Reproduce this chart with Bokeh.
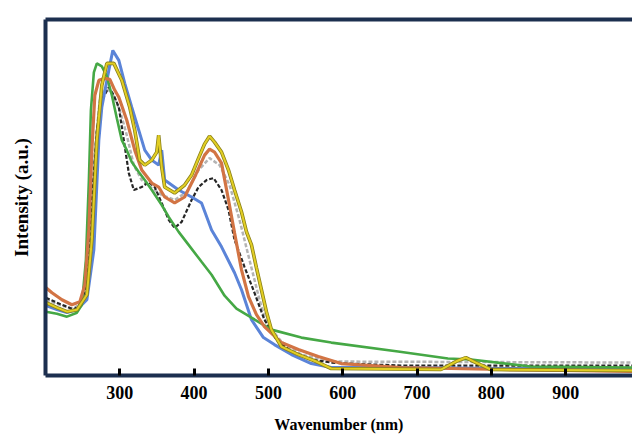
from bokeh.plotting import figure
from bokeh.models import Range1d, FixedTicker, LinearAxis
from bokeh.embed import file_html
from bokeh.resources import INLINE

# ---------------- data (intensity in a.u.) ----------------
x_ticks = [300, 400, 500, 600, 700, 800, 900]

blue_x = [200.7, 215.4, 228.9, 242.3, 255.7, 265.1, 271.8, 275.8, 285.2, 290.6, 298.7, 306.7, 316.1,
          325.5, 333.6, 343.0, 352.3, 356.4, 360.4, 379.2, 396.6, 410.0, 423.5, 436.9, 454.4, 463.8,
          477.2, 493.3, 508.0, 530.9, 557.7, 584.6, 678.5, 812.8, 990.0]
blue_y = [70, 66, 63, 66, 76, 126, 236, 269, 306, 326, 316, 293, 269,
          246, 226, 216, 211, 226, 196, 186, 179, 173, 146, 129, 103, 86,
          56, 38, 31, 21, 12, 8, 8, 7, 7]

green_x = [200.7, 215.4, 228.9, 242.3, 249.0, 254.4, 258.4, 261.1, 265.1, 269.1, 275.8, 282.6, 289.3,
           296.0, 302.7, 309.4, 316.1, 325.5, 333.6, 343.0, 356.4, 365.8, 379.2, 392.6, 410.0, 423.5,
           441.0, 457.0, 477.2, 504.0, 544.3, 584.6, 674.5, 741.6, 772.5, 853.0, 990.0]
green_y = [64, 62, 59, 63, 71, 116, 196, 266, 304, 313, 310, 300, 281,
           258, 236, 226, 214, 204, 196, 186, 171, 159, 144, 131, 114, 101,
           80, 67, 58, 46, 38, 33, 24, 17, 16, 9, 8]

yellow_x = [200.7, 215.4, 228.9, 242.3, 255.7, 262.4, 269.1, 275.8, 282.6, 292.0, 302.7, 313.4, 320.1,
            326.8, 333.6, 343.0, 349.7, 352.3, 356.4, 360.4, 373.8, 387.2, 396.6, 406.0, 414.0, 420.8,
            427.5, 436.9, 446.3, 454.4, 463.8, 470.5, 477.2, 483.9, 490.6, 497.3, 504.0, 517.4, 540.3,
            564.4, 584.6, 732.2, 752.3, 765.8, 779.2, 799.4, 990.0]
yellow_y = [73, 68, 64, 66, 81, 136, 236, 291, 313, 313, 296, 269, 246,
            216, 211, 216, 224, 241, 209, 189, 183, 191, 201, 218, 232, 240,
            234, 224, 206, 186, 164, 144, 131, 108, 86, 64, 46, 29, 21,
            14, 7, 6, 14, 18, 13, 6, 5]

red_x = [200.7, 208.7, 222.1, 235.5, 246.3, 253.0, 258.4, 262.4, 266.4, 271.8, 279.9, 286.6, 293.3,
         298.7, 309.4, 320.1, 329.5, 343.0, 352.3, 360.4, 373.8, 387.2, 400.7, 414.1, 420.8, 427.5,
         436.9, 446.3, 454.4, 463.8, 473.2, 483.9, 494.6, 517.4, 540.3, 567.1, 598.0, 678.5, 812.8, 990.0]
red_y = [88, 83, 76, 71, 74, 91, 146, 226, 281, 296, 298, 297, 286,
         279, 256, 226, 206, 193, 189, 179, 173, 179, 199, 221, 227, 224,
         213, 176, 143, 106, 79, 61, 49, 33, 26, 19, 12, 8, 6, 4]

black_x = [200.7, 215.4, 228.9, 238.3, 249.0, 255.7, 262.4, 269.1, 275.8, 285.2, 291.9, 298.7, 305.4,
           312.1, 318.8, 329.5, 338.9, 347.0, 356.4, 365.8, 373.8, 383.2, 396.6, 406.0, 416.8, 426.2,
           436.9, 446.3, 454.4, 467.8, 481.2, 494.6, 510.7, 530.9, 557.7, 584.6, 604.7, 678.5, 990.0]
black_y = [78, 73, 69, 66, 73, 96, 176, 246, 276, 289, 281, 269, 236,
           203, 186, 189, 194, 189, 173, 156, 148, 154, 176, 189, 196, 198,
           186, 166, 136, 109, 83, 56, 36, 24, 16, 13, 12, 10, 10]

gray_x = [200.7, 222.1, 238.3, 251.7, 259.7, 266.4, 273.1, 281.2, 289.3, 300.0, 309.4, 318.8, 329.5,
          343.0, 356.4, 373.8, 389.9, 406.0, 420.8, 434.3, 447.7, 461.1, 474.5, 488.0, 497.3, 517.4,
          544.3, 584.6, 990.0]
gray_y = [76, 70, 67, 76, 136, 226, 276, 288, 284, 266, 241, 211, 196,
          188, 181, 176, 184, 206, 218, 211, 191, 156, 116, 76, 53, 34,
          21, 14, 13]

# ---------------- figure ----------------
NAVY = "#1c2f4f"
SERIF = "Liberation Serif"

p = figure(width=632, height=435, x_range=Range1d(200, 990), y_range=Range1d(0, 357),
           output_backend="svg", toolbar_location=None,
           min_border_left=45, min_border_right=0, min_border_top=19, min_border_bottom=59)
p.outline_line_color = None
p.xgrid.visible = False
p.ygrid.visible = False
p.background_fill_color = "white"

# lines
p.line(gray_x, gray_y, line_color="#b4b4b4", line_width=2.5, line_dash="4 2")
p.line(black_x, black_y, line_color="#262626", line_width=2.2, line_dash="4 2")
p.line(blue_x, blue_y, line_color="#5b84d8", line_width=3)
p.line(green_x, green_y, line_color="#45a845", line_width=2.6)
p.line(red_x, red_y, line_color="#d27444", line_width=3.2)
p.line(yellow_x, yellow_y, line_color="#8a8018", line_width=3.6)
p.line(yellow_x, yellow_y, line_color="#e2ce24", line_width=2)

# x axis
xa = p.xaxis[0]
xa.ticker = FixedTicker(ticks=x_ticks)
xa.minor_tick_line_color = None
xa.major_tick_in = 7
xa.major_tick_out = 0
xa.major_tick_line_width = 3
xa.major_tick_line_color = "black"
xa.axis_line_width = 4
xa.axis_line_color = NAVY
xa.major_label_text_font = SERIF
xa.major_label_text_font_style = "bold"
xa.major_label_text_font_size = "18px"
xa.major_label_text_color = "black"
xa.major_label_standoff = 10
xa.axis_label = "Wavenumber (nm)"
xa.axis_label_text_font = SERIF
xa.axis_label_text_font_style = "bold"
xa.axis_label_text_font_size = "16px"
xa.axis_label_text_color = "black"
xa.axis_label_standoff = 14

# y axis
ya = p.yaxis[0]
ya.ticker = FixedTicker(ticks=[])
ya.minor_tick_line_color = None
ya.major_tick_line_color = None
ya.major_tick_out = 0
ya.major_label_standoff = 0
ya.axis_line_width = 4
ya.axis_line_color = NAVY
ya.axis_label = "Intensity (a.u.)"
ya.axis_label_text_font = SERIF
ya.axis_label_text_font_style = "bold"
ya.axis_label_text_font_size = "19px"
ya.axis_label_text_color = "black"
ya.axis_label_standoff = 14

# top frame line
top = LinearAxis(ticker=FixedTicker(ticks=[]), axis_line_width=4, axis_line_color=NAVY,
                 major_tick_line_color=None, minor_tick_line_color=None,
                 major_tick_out=0, major_label_standoff=0)
p.add_layout(top, "above")

open("out.html", "w").write(file_html(p, INLINE))
